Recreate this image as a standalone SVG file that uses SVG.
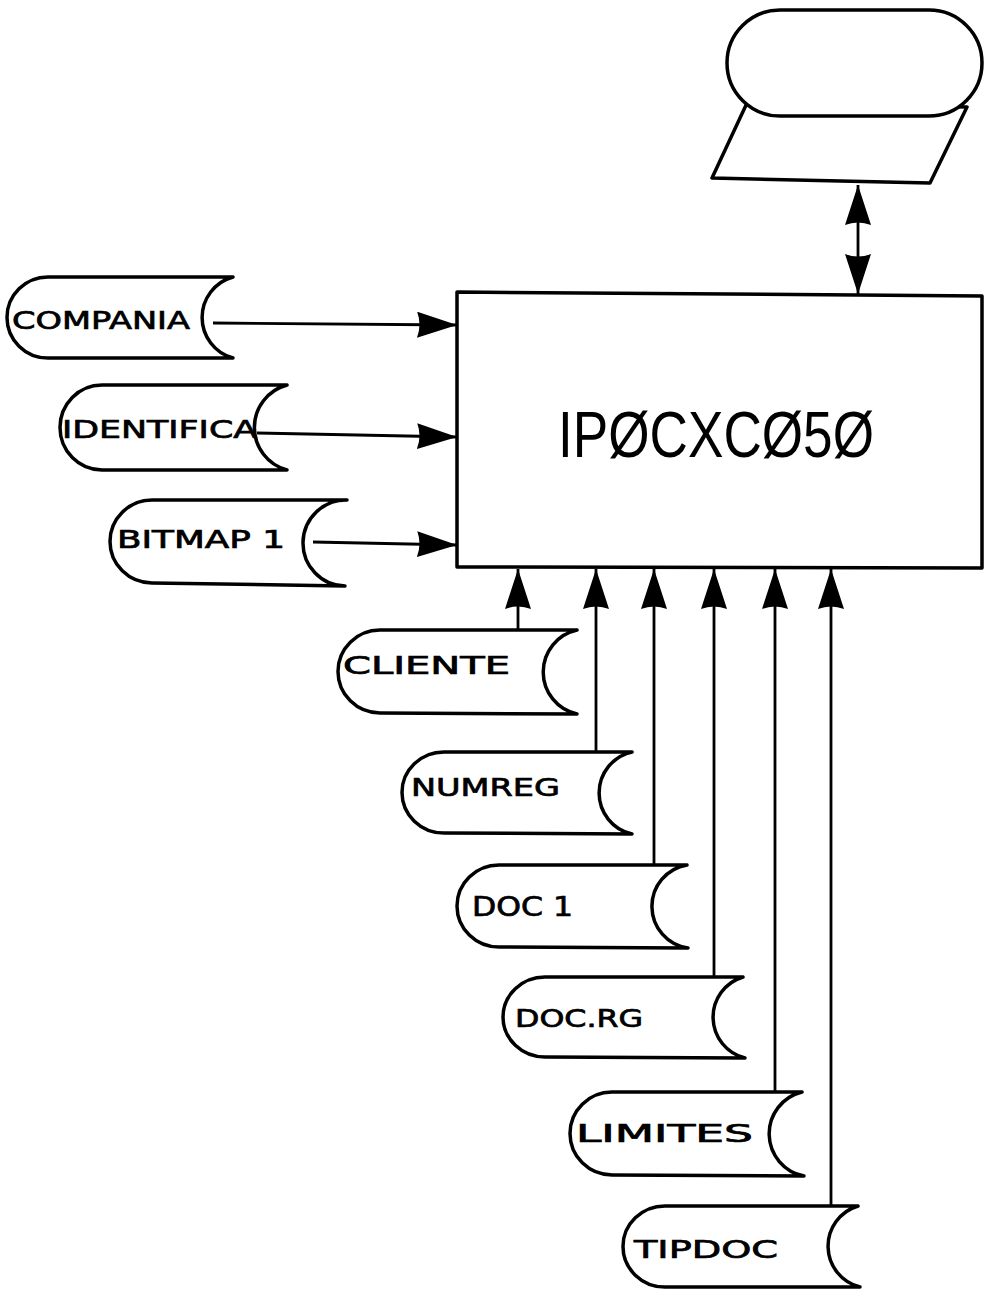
<svg xmlns="http://www.w3.org/2000/svg" width="985" height="1293" viewBox="0 0 985 1293">
<style>
.shape{fill:#fff;stroke:#000;stroke-width:3.5;stroke-linejoin:round;stroke-linecap:round}
.conn{fill:none;stroke:#000;stroke-width:2.8}
.lbl{font-family:"DejaVu Sans","Liberation Sans",sans-serif;font-size:24px;fill:#000;stroke:#000;stroke-width:0.7;font-weight:normal}
.title{font-family:"Liberation Sans","DejaVu Sans",sans-serif;font-size:64px;fill:#000}
</style>
<defs>
<marker id="ah" markerUnits="userSpaceOnUse" markerWidth="44" markerHeight="28" refX="40" refY="13" orient="auto-start-reverse">
<path d="M0,0 L40,13 L0,26 Q5,13 0,0 z" fill="#000"/>
</marker>
</defs>
<rect width="985" height="1293" fill="#fff"/>

<g id="display">
<path class="shape" d="M747,103 L712,178 L930,183 L967,107 Z"/>
<rect class="shape" x="727" y="10" width="255" height="106" rx="53" ry="53"/>
</g>

<g id="main">
<path class="shape" d="M457,292 L982,296 L982,568 L457,567 Z"/>
<text class="title" x="558" y="457" textLength="316" lengthAdjust="spacingAndGlyphs">IPØCXCØ5Ø</text>
</g>

<g id="compania">
<path class="shape" d="M233,277 L48,277 A41 40.5 0 0 0 48,358 L233,358 A42 42 0 0 1 233,277 Z"/>
<text class="lbl" x="12" y="329" textLength="178" lengthAdjust="spacingAndGlyphs">COMPANIA</text>
</g>

<g id="identifica">
<path class="shape" d="M287,385 L102,385 A42 42.5 0 0 0 102,470 L287,470 A44 44 0 0 1 287,385 Z"/>
<text class="lbl" x="62" y="438" textLength="195" lengthAdjust="spacingAndGlyphs">IDENTIFICA</text>
</g>

<g id="bitmap1">
<path class="shape" d="M347,500 L152,500 A42 41.5 0 0 0 152,583 L345,586 A43 43 0 0 1 347,500 Z"/>
<text class="lbl" x="117" y="548" textLength="168" lengthAdjust="spacingAndGlyphs">BITMAP 1</text>
</g>

<g id="cliente">
<path class="shape" d="M577,630 L380,630 A42 41.5 0 0 0 380,713 L577,714 A43 43 0 0 1 577,630 Z"/>
<text class="lbl" x="343" y="674" textLength="167" lengthAdjust="spacingAndGlyphs">CLIENTE</text>
</g>

<g id="numreg">
<path class="shape" d="M632,752 L444,752 A42 40.5 0 0 0 444,833 L632,834 A42 42 0 0 1 632,752 Z"/>
<text class="lbl" x="411" y="796" textLength="149" lengthAdjust="spacingAndGlyphs">NUMREG</text>
</g>

<g id="doc1">
<path class="shape" d="M687,865 L499,865 A42 41 0 0 0 499,947 L688,948 A42 42 0 0 1 687,865 Z"/>
<text class="lbl" x="472" y="916" textLength="101" lengthAdjust="spacingAndGlyphs" style="font-size:26px">DOC 1</text>
</g>

<g id="docrg">
<path class="shape" d="M743,977 L545,977 A42 40 0 0 0 545,1057 L745,1058 A42 42 0 0 1 743,977 Z"/>
<text class="lbl" x="515" y="1027" textLength="128" lengthAdjust="spacingAndGlyphs">DOC.RG</text>
</g>

<g id="limites">
<path class="shape" d="M802,1092 L612,1092 A42 41.5 0 0 0 612,1175 L804,1176 A43 43 0 0 1 802,1092 Z"/>
<text class="lbl" x="576" y="1142" textLength="177" lengthAdjust="spacingAndGlyphs">LIMITES</text>
</g>

<g id="tipdoc">
<path class="shape" d="M858,1206 L665,1206 A42 40.5 0 0 0 665,1287 L860,1287 A42 42 0 0 1 858,1206 Z"/>
<text class="lbl" x="634" y="1258" textLength="144" lengthAdjust="spacingAndGlyphs">TIPDOC</text>
</g>

<g id="connectors">
<line class="conn" x1="858" y1="185" x2="858" y2="294" marker-start="url(#ah)" marker-end="url(#ah)"/>
<line class="conn" x1="213" y1="323" x2="457" y2="325" marker-end="url(#ah)"/>
<line class="conn" x1="257" y1="433" x2="457" y2="437" marker-end="url(#ah)"/>
<line class="conn" x1="313" y1="542" x2="457" y2="545" marker-end="url(#ah)"/>
<line class="conn" x1="518" y1="630" x2="518" y2="569" marker-end="url(#ah)"/>
<line class="conn" x1="596" y1="752" x2="596" y2="569" marker-end="url(#ah)"/>
<line class="conn" x1="654" y1="865" x2="654" y2="569" marker-end="url(#ah)"/>
<line class="conn" x1="714" y1="977" x2="714" y2="569" marker-end="url(#ah)"/>
<line class="conn" x1="775" y1="1092" x2="775" y2="569" marker-end="url(#ah)"/>
<line class="conn" x1="831" y1="1206" x2="831" y2="569" marker-end="url(#ah)"/>
</g>
</svg>
